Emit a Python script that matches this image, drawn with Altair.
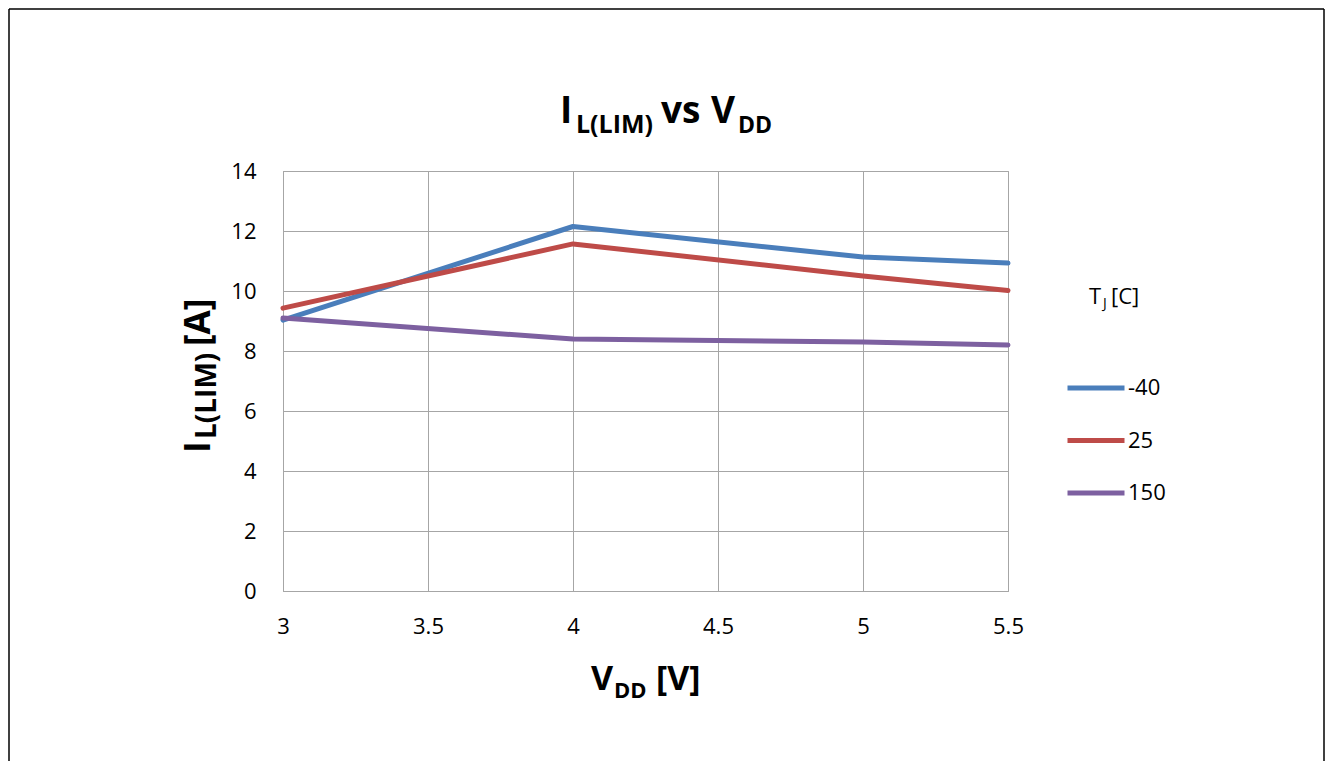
import altair as alt
import pandas as pd

# ---- data ----
vdd = [3, 4, 5, 5.5]
tj_labels = ["-40", "25", "150"]
i_m40 = [9.03, 12.15, 11.13, 10.93]
i_25 = [9.43, 11.57, 10.5, 10.02]
i_150 = [9.1, 8.4, 8.3, 8.2]
colors = ["#4A7EBB", "#BE4B48", "#7D60A0"]
x_ticks = [3, 3.5, 4, 4.5, 5, 5.5]
y_ticks = [0, 2, 4, 6, 8, 10, 12, 14]

rows = []
for lab, series in zip(tj_labels, [i_m40, i_25, i_150]):
    for v, i in zip(vdd, series):
        rows.append({"VDD": v, "I": i, "TJ": lab})
df = pd.DataFrame(rows)

FONT = "Open Sans"
GRID = "#A6A6A6"
W, H = 725, 420

lines = alt.Chart(df).mark_line(strokeWidth=5, strokeCap="round", strokeJoin="round").encode(
    x=alt.X("VDD:Q", scale=alt.Scale(domain=[3, 5.5], nice=False, zero=False),
            axis=alt.Axis(values=x_ticks, format="~g", title=None, ticks=False, labelFontSize=22,
                          labelFont=FONT, labelColor="#000000", labelPadding=25,
                          domainColor=GRID, gridColor=GRID, labelFlush=False)),
    y=alt.Y("I:Q", scale=alt.Scale(domain=[0, 14], nice=False),
            axis=alt.Axis(values=y_ticks, title=None, ticks=False, labelFontSize=22,
                          labelFont=FONT, labelColor="#000000", labelPadding=27,
                          domainColor=GRID, gridColor=GRID)),
    color=alt.Color("TJ:N", scale=alt.Scale(domain=tj_labels, range=colors),
                    legend=alt.Legend(title=None, orient="none", legendX=782, legendY=186,
                                      symbolType="stroke", symbolSize=3249,
                                      symbolStrokeWidth=5, labelFontSize=22, labelFont=FONT,
                                      labelColor="#000000", labelOffset=1, rowPadding=10.5,
                                      padding=0)),
    order=alt.Order("VDD:Q"),
)

one = alt.InlineData(values=[{"k": 0}])


def txt(s, x, y, size, angle=0, weight="bold"):
    return alt.Chart(one).mark_text(
        text=s, font=FONT, fontSize=size, fontWeight=weight, align="left",
        baseline="alphabetic", angle=angle, color="#000000"
    ).encode(x=alt.value(x), y=alt.value(y))


texts = [
    # chart title I_L(LIM) vs V_DD
    txt("I", 277, -48, 37),
    txt("L(LIM)", 293, -38, 25),
    txt("vs", 378, -48, 37),
    txt("V", 428, -48, 37),
    txt("DD", 455, -38, 23),
    # x axis title V_DD [V]
    txt("V", 308, 519, 34),
    txt("DD", 331, 527, 22),
    txt("[V]", 373, 519, 34),
    # y axis title I_L(LIM) [A] (rotated)
    txt("I", -73, 282, 35, angle=270),
    txt("L(LIM)", -67, 268, 28, angle=270),
    txt("[A]", -73, 175, 35, angle=270),
    # legend title T_J[C]
    txt("T", 806, 133, 22, weight="normal"),
    txt("J", 820, 137, 14, weight="normal"),
    txt("[C]", 828, 133, 22, weight="normal"),
]

frame = [
    alt.Chart(one).mark_rule(color="#000000", strokeWidth=1.5).encode(
        x=alt.value(-274), x2=alt.value(1041), y=alt.value(-162)),
    alt.Chart(one).mark_rule(color="#000000", strokeWidth=1.5).encode(
        x=alt.value(-274), y=alt.value(-162), y2=alt.value(590)),
    alt.Chart(one).mark_rule(color="#000000", strokeWidth=1.5).encode(
        x=alt.value(1041), y=alt.value(-162), y2=alt.value(590)),
]

chart = alt.layer(lines, *texts, *frame).properties(
    width=W, height=H,
    autosize=alt.AutoSizeParams(type="none"),
    padding={"left": 275, "top": 163, "right": 317, "bottom": 170},
).configure_view(stroke=GRID, strokeWidth=1).configure_axis(gridWidth=1, domainWidth=1)

chart.save("out.html", embed_options={"renderer": "svg", "actions": False})
